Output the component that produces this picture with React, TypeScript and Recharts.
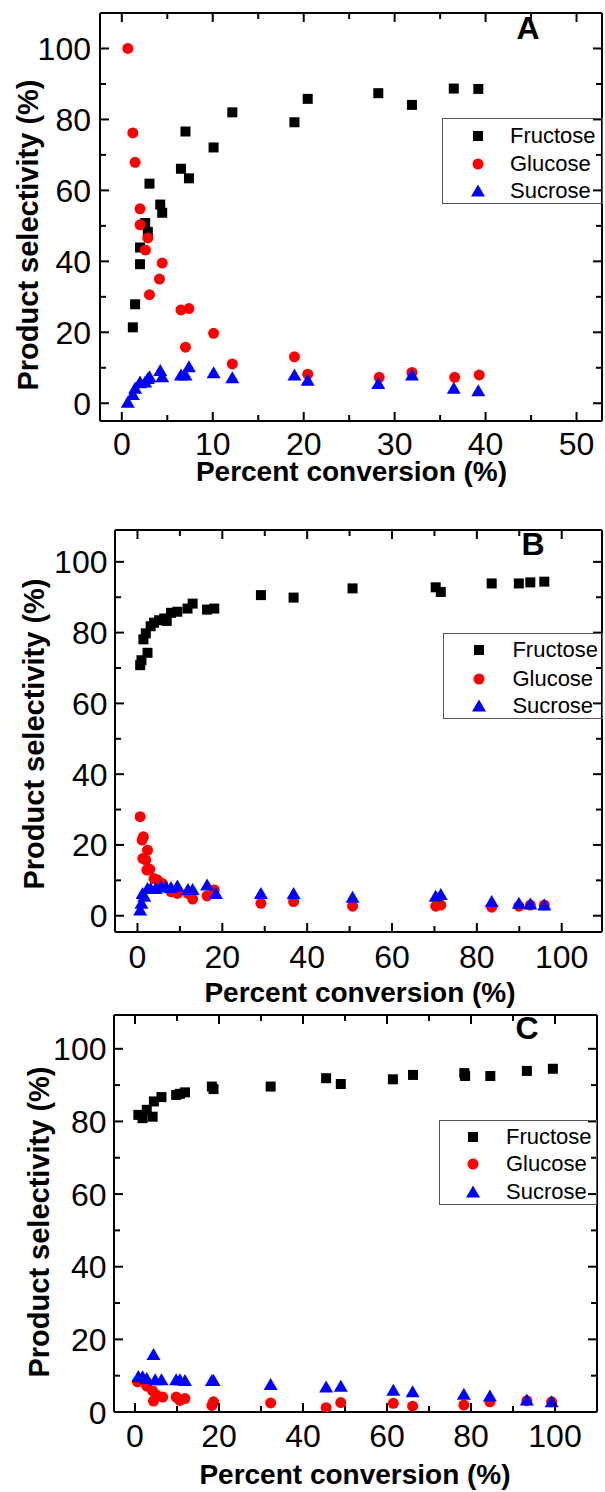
import React from 'react'
import { ScatterChart, Scatter, XAxis, YAxis, Legend, Label } from 'recharts'

type Pt = [number, number]

const FONT = '"Liberation Sans", Arial, Helvetica, sans-serif'
const SERIES = ['Fructose', 'Glucose', 'Sucrose']

// panel A: [conversion %, selectivity %]
const aFructose: Pt[] = [
  [1.21, 21.4], [1.46, 27.9], [2.0, 39.2], [2.0, 43.9], [2.57, 50.8], [2.86, 48.3], [3.04, 61.9],
  [4.22, 56.0], [4.44, 53.7], [6.5, 66.1], [7.0, 76.6], [7.38, 63.4], [10.09, 72.1], [12.15, 82.0],
  [18.98, 79.2], [20.44, 85.8], [28.2, 87.4], [31.9, 84.1], [36.5, 88.7], [39.2, 88.6],
]
const aGlucose: Pt[] = [
  [0.66, 100], [1.21, 76.2], [1.46, 67.9], [2.0, 54.8], [2.0, 50.3], [2.6, 43.2], [2.86, 46.6],
  [3.04, 30.6], [4.14, 35.0], [4.44, 39.5], [6.5, 26.3], [7.0, 15.8], [7.38, 26.7], [10.09, 19.7],
  [12.15, 11.1], [18.98, 13.1], [20.44, 8.2], [28.3, 7.3], [31.9, 8.7], [36.6, 7.3], [39.3, 8.0],
]
const aSucrose: Pt[] = [
  [0.66, 0.3], [1.21, 2.5], [1.46, 4.2], [2.0, 6.0], [2.0, 5.8], [2.57, 6.0], [2.86, 7.0],
  [3.04, 7.5], [4.22, 9.2], [4.44, 7.5], [6.5, 8.0], [7.0, 8.0], [7.38, 10.3], [10.09, 8.6],
  [12.15, 7.2], [18.98, 8.0], [20.44, 6.5], [28.2, 5.6], [31.9, 8.0], [36.5, 4.2], [39.2, 3.5],
]

// panel B
const bFructose: Pt[] = [
  [0.63, 70.8], [0.94, 72.2], [1.4, 78.1], [1.97, 79.8], [2.36, 74.3], [3.1, 81.8], [3.9, 82.8],
  [5.1, 83.5], [6.3, 84.0], [6.9, 83.3], [7.9, 85.6], [9.4, 85.9], [11.8, 86.8], [13.0, 88.2],
  [16.4, 86.5], [18.1, 86.8], [29.1, 90.6], [36.8, 89.9], [50.7, 92.5], [70.3, 92.8], [71.5, 91.5],
  [83.5, 93.9], [89.9, 93.9], [92.6, 94.2], [95.9, 94.4],
]
const bGlucose: Pt[] = [
  [0.63, 28.0], [1.1, 21.4], [1.4, 22.3], [1.26, 16.2], [1.97, 15.7], [2.36, 18.5], [2.2, 12.9],
  [2.9, 13.1], [3.9, 10.5], [4.7, 10.1], [5.9, 9.1], [7.9, 6.8], [9.4, 6.3], [11.9, 6.3], [13.0, 4.7],
  [16.4, 5.6], [18.1, 7.3], [29.1, 3.5], [36.8, 4.0], [50.7, 2.7], [70.3, 2.7], [71.5, 3.0],
  [83.5, 2.4], [89.9, 2.7], [92.6, 3.0], [95.9, 3.0],
]
const bSucrose: Pt[] = [
  [0.63, 1.6], [0.94, 3.5], [1.2, 6.3], [1.6, 5.5], [2.36, 7.7], [3.1, 7.7], [4.3, 7.7], [5.5, 8.2],
  [6.7, 8.2], [7.9, 8.0], [9.4, 8.4], [11.9, 7.4], [13.0, 7.4], [16.4, 8.7], [18.5, 6.3], [29.1, 6.3],
  [36.8, 6.3], [50.7, 5.2], [70.3, 5.5], [71.5, 6.0], [83.5, 4.0], [89.9, 3.5], [92.6, 3.3], [95.9, 3.0],
]

// panel C
const cFructose: Pt[] = [
  [0.8, 81.8], [1.8, 80.9], [2.8, 83.2], [4.2, 81.3], [4.5, 85.5], [6.3, 86.7], [9.8, 87.3],
  [10.7, 87.6], [11.9, 88.0], [18.3, 89.6], [18.7, 88.9], [32.3, 89.6], [45.5, 91.9], [49.0, 90.3],
  [61.4, 91.6], [66.2, 92.8], [78.4, 93.3], [78.6, 92.5], [84.6, 92.5], [93.3, 93.9], [99.5, 94.5],
]
const cGlucose: Pt[] = [
  [0.6, 8.3], [2.8, 7.1], [4.2, 5.8], [4.4, 3.0], [5.2, 4.6], [6.6, 4.1], [9.8, 4.1], [10.7, 3.2],
  [11.9, 3.7], [18.3, 1.8], [18.7, 2.8], [32.3, 2.5], [45.5, 1.2], [49.0, 2.6], [61.5, 2.4],
  [66.1, 1.6], [78.3, 1.9], [84.5, 2.8], [93.3, 3.1], [99.2, 2.8],
]
const cSucrose: Pt[] = [
  [0.8, 9.8], [1.8, 9.7], [2.8, 9.2], [4.4, 15.8], [4.8, 8.9], [6.3, 8.9], [9.8, 8.9], [10.7, 8.9],
  [11.9, 8.7], [18.3, 8.7], [18.7, 8.7], [32.3, 7.6], [45.5, 6.9], [49.0, 7.1], [61.5, 6.0],
  [66.1, 5.6], [78.3, 4.9], [84.5, 4.4], [93.3, 3.3], [99.2, 2.8],
]

const aXTicks = [0, 5, 10, 15, 20, 25, 30, 35, 40, 45, 50]
const bcXTicks = [0, 10, 20, 30, 40, 50, 60, 70, 80, 90, 100]
const yTicks = [0, 10, 20, 30, 40, 50, 60, 70, 80, 90, 100]

const toRows = (pts: Pt[]) => pts.map(([x, y]) => ({ x, y }))
const isMajor = (v: number, step: number) => Math.abs(v / step - Math.round(v / step)) < 1e-6

function marker(name: string, cx: number, cy: number) {
  if (name === 'Fructose') return <rect x={cx - 5} y={cy - 5} width={10} height={10} fill="#000" />
  if (name === 'Glucose') return <circle cx={cx} cy={cy} r={5.5} fill="#ff0000" />
  return <path d={`M${cx},${cy - 6.5}L${cx + 7},${cy + 5.5}L${cx - 7},${cy + 5.5}Z`} fill="#0000ff" />
}

type Layout = {
  top: number
  height: number
  plot: { left: number; top: number; right: number; bottom: number }
  xDomain: [number, number]
  yDomain: [number, number]
  xTicks: number[]
  xStep: number
  xLabelDy: number
  yLabelGap: number
  xTitle: [number, number]
  yTitle: [number, number]
  letter: string
  letterPos: [number, number]
  legend: { left: number; top: number; width: number; height: number; symX: number; textX: number; rows: number[] }
}

const MAJOR = 9
const MINOR = 6

function Panel({ L, fructose, glucose, sucrose }: { L: Layout; fructose: Pt[]; glucose: Pt[]; sucrose: Pt[] }) {
  const { plot } = L
  const tickStroke = { stroke: '#000', strokeWidth: 2 }

  const bottomTick = (p: any) => {
    const v = p.payload.value
    const big = isMajor(v, L.xStep)
    return (
      <g>
        <line x1={p.x} x2={p.x} y1={p.y} y2={p.y - (big ? MAJOR : MINOR)} {...tickStroke} />
        {big && (
          <text x={p.x} y={p.y + L.xLabelDy} textAnchor="middle" fontSize={32} fontFamily={FONT} fill="#000">
            {v}
          </text>
        )}
      </g>
    )
  }
  const topTick = (p: any) => {
    const big = isMajor(p.payload.value, L.xStep)
    return <line x1={p.x} x2={p.x} y1={p.y} y2={p.y + (big ? MAJOR : MINOR)} {...tickStroke} />
  }
  const leftTick = (p: any) => {
    const v = p.payload.value
    const big = isMajor(v, 20)
    return (
      <g>
        <line x1={p.x} x2={p.x + (big ? MAJOR : MINOR)} y1={p.y} y2={p.y} {...tickStroke} />
        {big && (
          <text x={p.x - L.yLabelGap} y={p.y + 11.5} textAnchor="end" fontSize={32} fontFamily={FONT} fill="#000">
            {v}
          </text>
        )}
      </g>
    )
  }
  const rightTick = (p: any) => {
    const big = isMajor(p.payload.value, 20)
    return <line x1={p.x} x2={p.x - (big ? MAJOR : MINOR)} y1={p.y} y2={p.y} {...tickStroke} />
  }

  const legendContent = (props: any) => {
    const items = [...(props.payload || [])].sort((a: any, b: any) => SERIES.indexOf(a.value) - SERIES.indexOf(b.value))
    return (
      <div style={{ position: 'relative', width: '100%', height: '100%' }}>
        {items.map((e: any, i: number) => (
          <div key={e.value} style={{ position: 'absolute', left: 0, top: L.legend.rows[i] - 14, height: 28, width: '100%' }}>
            <svg width={20} height={28} style={{ position: 'absolute', left: L.legend.symX - 10, top: 0 }}>
              {marker(e.value, 10, 14)}
            </svg>
            <span
              style={{
                position: 'absolute',
                left: L.legend.textX,
                top: 0,
                lineHeight: '28px',
                fontSize: 22,
                fontFamily: FONT,
                color: '#000',
                whiteSpace: 'nowrap',
              }}
            >
              {e.value}
            </span>
          </div>
        ))}
      </div>
    )
  }

  // every axis is 1px thick so that Recharts still draws it; margins make up the rest
  return (
    <div style={{ position: 'absolute', left: 0, top: L.top }}>
      <ScatterChart
        width={605}
        height={L.height}
        margin={{ top: plot.top - 1, left: plot.left - 1, right: 605 - plot.right - 1, bottom: L.height - plot.bottom - 1 }}
      >
        <XAxis
          xAxisId="b"
          type="number"
          dataKey="x"
          domain={L.xDomain}
          allowDataOverflow
          ticks={L.xTicks}
          interval={0}
          height={1}
          tickSize={0}
          tickMargin={0}
          tickLine={false}
          axisLine={tickStroke}
          tick={bottomTick}
        >
          <Label
            content={() => (
              <text x={L.xTitle[0]} y={L.xTitle[1]} textAnchor="middle" fontSize={28} fontWeight="bold" fontFamily={FONT} fill="#000">
                Percent conversion (%)
              </text>
            )}
          />
        </XAxis>
        <XAxis
          xAxisId="t"
          orientation="top"
          type="number"
          dataKey="x"
          domain={L.xDomain}
          allowDataOverflow
          ticks={L.xTicks}
          interval={0}
          height={1}
          tickSize={0}
          tickMargin={0}
          tickLine={false}
          axisLine={tickStroke}
          tick={topTick}
        >
          <Label
            content={() => (
              <text x={L.letterPos[0]} y={L.letterPos[1]} textAnchor="middle" fontSize={32} fontWeight="bold" fontFamily={FONT} fill="#000">
                {L.letter}
              </text>
            )}
          />
        </XAxis>
        <YAxis
          yAxisId="l"
          type="number"
          dataKey="y"
          domain={L.yDomain}
          allowDataOverflow
          ticks={yTicks}
          interval={0}
          width={1}
          tickSize={0}
          tickMargin={0}
          tickLine={false}
          axisLine={tickStroke}
          tick={leftTick}
        >
          <Label
            content={() => (
              <text
                x={L.yTitle[0]}
                y={L.yTitle[1]}
                transform={`rotate(-90, ${L.yTitle[0]}, ${L.yTitle[1]})`}
                textAnchor="middle"
                fontSize={29}
                fontWeight="bold"
                fontFamily={FONT}
                fill="#000"
              >
                Product selectivity (%)
              </text>
            )}
          />
        </YAxis>
        <YAxis
          yAxisId="r"
          orientation="right"
          type="number"
          dataKey="y"
          domain={L.yDomain}
          allowDataOverflow
          ticks={yTicks}
          interval={0}
          width={1}
          tickSize={0}
          tickMargin={0}
          tickLine={false}
          axisLine={tickStroke}
          tick={rightTick}
        />
        <Legend
          layout="vertical"
          align="center"
          verticalAlign="middle"
          content={legendContent}
          wrapperStyle={{
            position: 'absolute',
            left: L.legend.left,
            top: L.legend.top,
            width: L.legend.width,
            height: L.legend.height,
            border: '1.5px solid #555',
            boxSizing: 'border-box',
          }}
        />
        <Scatter
          name="Fructose"
          xAxisId="b"
          yAxisId="l"
          data={toRows(fructose)}
          fill="#000"
          isAnimationActive={false}
          shape={(p: any) => marker('Fructose', p.cx, p.cy)}
        />
        <Scatter
          name="Glucose"
          xAxisId="b"
          yAxisId="l"
          data={toRows(glucose)}
          fill="#ff0000"
          isAnimationActive={false}
          shape={(p: any) => marker('Glucose', p.cx, p.cy)}
        />
        <Scatter
          name="Sucrose"
          xAxisId="b"
          yAxisId="l"
          data={toRows(sucrose)}
          fill="#0000ff"
          isAnimationActive={false}
          shape={(p: any) => marker('Sucrose', p.cx, p.cy)}
        />
      </ScatterChart>
    </div>
  )
}

const layoutA: Layout = {
  top: 0,
  height: 500,
  plot: { left: 100, top: 13, right: 602, bottom: 421 },
  xDomain: [-2.4, 52.8],
  yDomain: [-5, 110],
  xTicks: aXTicks,
  xStep: 10,
  xLabelDy: 34,
  yLabelGap: 9,
  xTitle: [351.5, 481],
  yTitle: [37.5, 235],
  letter: 'A',
  letterPos: [528, 39],
  legend: { left: 442, top: 118, width: 161, height: 86, symX: 34.5, textX: 67, rows: [16.7, 45, 72.4] },
}

const layoutB: Layout = {
  top: 500,
  height: 515,
  plot: { left: 115, top: 30, right: 602, bottom: 432 },
  xDomain: [-5.3, 109.5],
  yDomain: [-4.6, 109],
  xTicks: bcXTicks,
  xStep: 20,
  xLabelDy: 36,
  yLabelGap: 7.5,
  xTitle: [360, 502],
  yTitle: [44, 234],
  letter: 'B',
  letterPos: [533, 55],
  legend: { left: 443, top: 132.7, width: 160, height: 86.3, symX: 34.7, textX: 68.4, rows: [16.6, 45, 72.3] },
}

const layoutC: Layout = {
  top: 1000,
  height: 492,
  plot: { left: 114, top: 15, right: 597, bottom: 412 },
  xDomain: [-5, 110],
  yDomain: [0, 109.3],
  xTicks: bcXTicks,
  xStep: 20,
  xLabelDy: 35,
  yLabelGap: 7.5,
  xTitle: [355, 484],
  yTitle: [49, 222],
  letter: 'C',
  letterPos: [527, 39],
  legend: { left: 439, top: 120, width: 158, height: 84.7, symX: 33.3, textX: 66, rows: [15.7, 43.3, 71] },
}

export default function App() {
  return (
    <div style={{ position: 'absolute', left: 0, top: 0, width: 605, height: 1492, background: '#fff' }}>
      <Panel L={layoutA} fructose={aFructose} glucose={aGlucose} sucrose={aSucrose} />
      <Panel L={layoutB} fructose={bFructose} glucose={bGlucose} sucrose={bSucrose} />
      <Panel L={layoutC} fructose={cFructose} glucose={cGlucose} sucrose={cSucrose} />
    </div>
  )
}
